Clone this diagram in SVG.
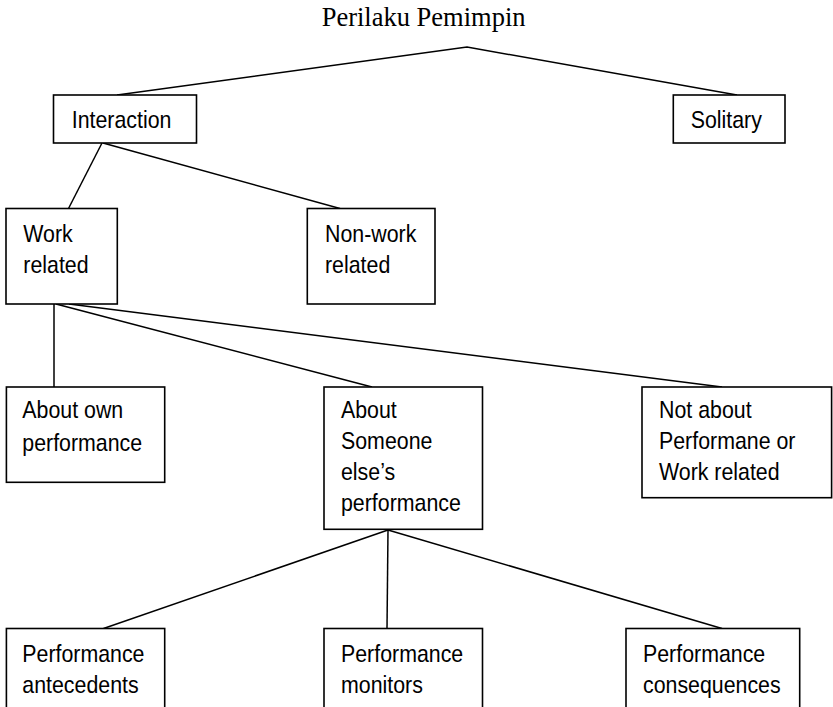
<svg xmlns="http://www.w3.org/2000/svg" width="833" height="707" viewBox="0 0 833 707">
<style>
.box{fill:#fff;stroke:#000;stroke-width:1.6}
.lbl{font-family:"Liberation Sans",Arial,sans-serif;font-size:24px;fill:#000}
.ttl{font-family:"Liberation Serif","Times New Roman",serif;font-size:26.5px;fill:#000}
#connectors line,#connectors polyline{stroke:#000;stroke-width:1.5;fill:none}
</style>
<rect width="833" height="707" fill="#fff"/>
<g id="connectors">
<polyline points="117,95 467,47 737,95"/>
<line x1="102" y1="143" x2="68.5" y2="208.5"/>
<line x1="103" y1="143" x2="340" y2="208.5"/>
<line x1="54" y1="304" x2="54" y2="387"/>
<line x1="56" y1="304" x2="372" y2="387"/>
<line x1="69" y1="304" x2="722" y2="387"/>
<line x1="388" y1="530" x2="103.5" y2="628.5"/>
<line x1="388" y1="530" x2="387" y2="628.5"/>
<line x1="388" y1="530" x2="722" y2="628.5"/>
</g>
<g id="title"><text class="ttl" x="321.7" y="26">Perilaku Pemimpin</text></g>
<g id="interaction"><rect class="box" x="53.5" y="95" width="143" height="48"/><text class="lbl" transform="translate(71.7,128.3) scale(0.89,1)">Interaction</text></g>
<g id="solitary"><rect class="box" x="673.3" y="95" width="111.7" height="48"/><text class="lbl" transform="translate(690.7,128.3) scale(0.89,1)">Solitary</text></g>
<g id="work-related"><rect class="box" x="6" y="208.5" width="111.3" height="95.5"/><text class="lbl" transform="translate(23.3,241.7) scale(0.89,1)"><tspan x="0" y="0">Work</tspan><tspan x="0" y="31">related</tspan></text></g>
<g id="non-work-related"><rect class="box" x="307.3" y="208.5" width="127.7" height="95.5"/><text class="lbl" transform="translate(325,241.7) scale(0.89,1)"><tspan x="0" y="0">Non-work</tspan><tspan x="0" y="31">related</tspan></text></g>
<g id="about-own"><rect class="box" x="6.4" y="387" width="158.3" height="95.3"/><text class="lbl" transform="translate(22.3,418.3) scale(0.89,1)"><tspan x="0" y="0">About own</tspan><tspan x="0" y="32.7">performance</tspan></text></g>
<g id="about-someone"><rect class="box" x="324" y="387" width="158.5" height="142.3"/><text class="lbl" transform="translate(341,418.3) scale(0.89,1)"><tspan x="0" y="0">About</tspan><tspan x="0" y="31">Someone</tspan><tspan x="0" y="62">else’s</tspan><tspan x="0" y="92.5">performance</tspan></text></g>
<g id="not-about"><rect class="box" x="642" y="387" width="189.6" height="110.7"/><text class="lbl" transform="translate(659,418.3) scale(0.89,1)"><tspan x="0" y="0">Not about</tspan><tspan x="0" y="31">Performane or</tspan><tspan x="0" y="62">Work related</tspan></text></g>
<g id="perf-antecedents"><rect class="box" x="6.4" y="628.5" width="158.3" height="100"/><text class="lbl" transform="translate(22.3,661.7) scale(0.89,1)"><tspan x="0" y="0">Performance</tspan><tspan x="0" y="31">antecedents</tspan></text></g>
<g id="perf-monitors"><rect class="box" x="324" y="628.5" width="158.5" height="100"/><text class="lbl" transform="translate(341,661.7) scale(0.89,1)"><tspan x="0" y="0">Performance</tspan><tspan x="0" y="31">monitors</tspan></text></g>
<g id="perf-consequences"><rect class="box" x="626" y="628.5" width="173.7" height="100"/><text class="lbl" transform="translate(643,661.7) scale(0.89,1)"><tspan x="0" y="0">Performance</tspan><tspan x="0" y="31">consequences</tspan></text></g>
</svg>
